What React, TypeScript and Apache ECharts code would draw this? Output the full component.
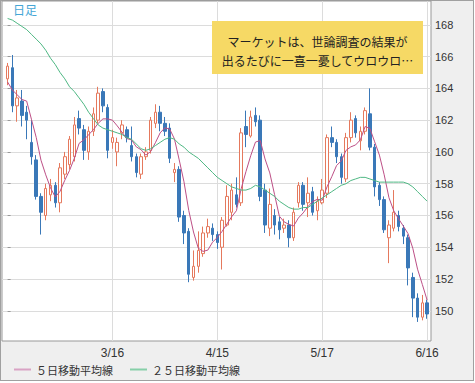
import React, { useEffect, useRef } from "react";
import * as echarts from "echarts";

// Trading days (weekdays) from 2016-02-15 to 2016-06-16
const dates: string[] = (() => {
  const out: string[] = [];
  const d = new Date(Date.UTC(2016, 1, 15));
  const end = Date.UTC(2016, 5, 16);
  while (d.getTime() <= end) {
    const wd = d.getUTCDay();
    if (wd !== 0 && wd !== 6) out.push(`${d.getUTCMonth() + 1}/${d.getUTCDate()}`);
    d.setUTCDate(d.getUTCDate() + 1);
  }
  return out;
})();

const xTickLabels = ["3/16", "4/15", "5/17", "6/16"];
const yTicks = [150, 152, 154, 156, 158, 160, 162, 164, 166, 168];

// [open, close, low, high]
const candles: number[][] = [
  [164.6, 165.4, 164.2, 165.6], [165.3, 162.9, 162.5, 166.1], [162.9, 163.4, 161.9, 163.9], [163.2, 162.3, 161.6, 163.9],
  [162.5, 162.0, 160.8, 162.9], [160.6, 159.7, 159.2, 162.0], [159.5, 157.2, 157.0, 159.8], [157.2, 156.2, 154.8, 157.4],
  [156.0, 157.7, 155.7, 158.0], [157.3, 157.9, 156.9, 158.3], [157.9, 156.8, 156.5, 158.1], [156.8, 159.0, 156.2, 159.3],
  [158.6, 159.7, 158.3, 160.0], [159.2, 160.8, 158.9, 161.0], [159.7, 161.7, 159.4, 162.2], [162.1, 161.5, 161.1, 162.6],
  [161.4, 160.1, 159.5, 161.7], [160.0, 161.3, 159.5, 161.6], [161.3, 162.4, 161.0, 162.8], [162.0, 163.7, 161.8, 164.1],
  [163.8, 162.9, 162.5, 164.0], [162.8, 160.1, 159.6, 163.0], [160.6, 160.9, 160.2, 161.4], [160.0, 160.6, 159.1, 160.9],
  [161.2, 161.7, 160.8, 162.0], [161.4, 160.9, 160.6, 161.6], [160.4, 159.7, 159.4, 161.6], [159.7, 158.7, 158.4, 159.9],
  [158.6, 159.7, 158.3, 159.9], [159.7, 160.0, 159.5, 160.3], [160.1, 162.0, 159.9, 162.2], [161.8, 162.5, 161.5, 163.0],
  [162.5, 161.8, 161.3, 162.9], [161.8, 161.3, 161.0, 162.2], [161.5, 159.6, 159.3, 161.8], [158.7, 158.9, 158.1, 159.3],
  [158.9, 155.9, 155.6, 159.1], [156.0, 154.9, 154.2, 156.3], [155.0, 152.3, 151.8, 155.2], [152.1, 152.8, 151.9, 153.8],
  [152.8, 153.8, 152.4, 155.0], [153.6, 154.9, 153.4, 155.3], [154.9, 155.3, 154.6, 155.8], [155.2, 154.8, 154.4, 155.5],
  [154.8, 154.3, 153.9, 155.0], [154.0, 155.7, 152.6, 155.9], [155.4, 157.2, 155.3, 157.9], [156.2, 157.6, 155.7, 158.0],
  [157.3, 156.7, 156.5, 158.4], [156.8, 161.2, 156.6, 161.5], [161.6, 161.1, 160.3, 162.6], [161.0, 162.2, 160.9, 162.6],
  [162.3, 161.9, 161.6, 162.8], [162.0, 157.2, 156.9, 162.3], [157.6, 155.4, 154.9, 158.0], [155.2, 156.7, 154.7, 157.7],
  [156.0, 155.4, 154.8, 156.4], [155.6, 155.1, 154.5, 155.9], [155.2, 155.4, 154.9, 155.8], [155.4, 154.6, 154.0, 155.7],
  [154.6, 156.2, 154.4, 156.5], [156.8, 157.9, 156.5, 158.1], [157.9, 156.7, 156.3, 158.1], [156.8, 157.4, 155.9, 158.4],
  [157.5, 156.2, 156.0, 157.8], [156.3, 156.9, 155.7, 157.2], [156.8, 157.6, 156.7, 158.3], [157.4, 160.9, 157.1, 161.1],
  [160.9, 160.6, 160.3, 161.6], [160.6, 159.7, 159.3, 160.8], [159.7, 158.4, 158.0, 159.9], [158.3, 160.9, 158.1, 161.2],
  [160.9, 162.0, 160.6, 162.5], [162.1, 161.2, 160.9, 162.3], [160.7, 161.3, 160.1, 161.6], [161.3, 162.6, 161.1, 162.8],
  [162.4, 160.3, 160.1, 164.0], [160.3, 157.8, 157.2, 160.5], [157.9, 157.0, 156.6, 158.1], [157.0, 155.1, 154.9, 157.2],
  [154.6, 155.4, 153.0, 155.7], [155.2, 156.2, 155.0, 157.6], [156.0, 155.3, 155.0, 156.3], [155.2, 154.7, 154.2, 155.4],
  [154.6, 152.7, 151.6, 154.8], [152.1, 150.8, 149.6, 152.4], [150.8, 149.6, 149.3, 151.1], [149.6, 150.5, 149.4, 151.0],
  [150.5, 149.8, 149.5, 150.7],
];

const ma5: number[] = [
  164.4, 163.9, 163.6, 163.3, 163.2, 162.06, 160.92, 159.48, 158.56, 157.74,
  157.16, 157.52, 158.22, 158.84, 159.6, 160.54, 160.76, 161.08, 161.4, 161.8,
  162.08, 162.08, 162.0, 161.64, 161.24, 160.84, 160.76, 160.32, 160.14, 159.8,
  160.02, 160.58, 161.2, 161.52, 161.44, 160.82, 159.5, 158.12, 156.32, 154.96,
  153.94, 153.74, 153.82, 154.32, 154.62, 155.0, 155.46, 155.92, 156.3, 157.68,
  158.76, 159.76, 160.62, 160.72, 159.56, 158.68, 157.32, 155.96, 155.6, 155.44,
  155.34, 155.84, 156.16, 156.56, 156.88, 157.02, 156.96, 157.8, 158.44, 159.14,
  159.44, 160.1, 160.32, 160.44, 160.76, 161.6, 161.48, 160.64, 159.8, 158.56,
  157.12, 156.3, 155.8, 155.34, 154.86, 153.94, 152.62, 151.66, 150.68,
];

const ma25: number[] = [
  168.4, 168.3, 168.1, 167.9, 167.7, 167.4, 167.1, 166.8, 166.4, 165.9,
  165.5, 165.0, 164.6, 164.1, 163.8, 163.4, 163.0, 162.5, 162.1, 161.7,
  161.5, 161.4, 161.3, 161.2, 161.1, 160.9, 160.8, 160.5, 160.2, 160.1,
  160.2, 160.4, 160.6, 160.8, 160.9, 160.8, 160.5, 160.3, 160.0, 159.8,
  159.6, 159.3, 159.0, 158.7, 158.4, 158.2, 158.0, 157.8, 157.7, 157.6,
  157.6, 157.7, 157.9, 157.8, 157.6, 157.4, 157.2, 156.9, 156.7, 156.5,
  156.4, 156.4, 156.5, 156.5, 156.7, 156.9, 157.1, 157.3, 157.5, 157.7,
  157.9, 158.0, 158.2, 158.3, 158.4, 158.4, 158.3, 158.2, 158.1, 158.1,
  158.1, 158.1, 158.1, 158.1, 158.0, 157.8, 157.5, 157.2, 156.9,
];

const seriesNames = ["５日移動平均線", "２５日移動平均線"];
const noteLines = ["マーケットは、世論調査の結果が", "出るたびに一喜一憂してウロウロ…"];
const cornerLabel = "日足";

const CJK = "'Noto Sans CJK JP', 'Noto Sans', sans-serif";
const LAT = "'Liberation Sans', Arial, sans-serif";

export default function App() {
  const ref = useRef<HTMLDivElement>(null);

  useEffect(() => {
    document.body.style.margin = "0";
    if (!ref.current) return;
    const chart = echarts.init(ref.current, null, { renderer: "svg" });
    const xTickIdx = xTickLabels.map((l) => dates.indexOf(l));
    const option: any = {
      animation: false,
      backgroundColor: "transparent",
      textStyle: { fontFamily: LAT },
      grid: {
        left: 2,
        right: 44,
        top: 1,
        bottom: 42,
        show: true,
        backgroundColor: "#fff",
        borderColor: "#999",
        borderWidth: 1,
      },
      xAxis: {
        type: "value",
        min: -1.175,
        max: 88.82,
        axisLine: { show: false },
        axisTick: { show: false, customValues: xTickIdx },
        splitLine: { show: true, lineStyle: { color: "#dcdcdc", width: 1 } },
        axisLabel: {
          customValues: xTickIdx,
          formatter: (v: number) => dates[Math.round(v)],
          color: "#333",
          fontSize: 12,
          margin: 6,
          fontFamily: LAT,
        },
      },
      yAxis: {
        type: "value",
        position: "right",
        min: 148.1,
        max: 169.5,
        axisLine: { show: false },
        axisTick: { show: true, customValues: yTicks, length: 3, lineStyle: { color: "#999" } },
        axisLabel: { customValues: yTicks, color: "#333", fontSize: 11, margin: 4, fontFamily: LAT },
        splitLine: { show: true, lineStyle: { color: "#dcdcdc", width: 1 } },
      },
      legend: {
        left: 14,
        top: 364,
        padding: 0,
        itemWidth: 17,
        itemHeight: 2,
        itemGap: 17,
        icon: "rect",
        textStyle: { fontSize: 11, color: "#333", fontFamily: CJK },
        data: [
          { name: seriesNames[0], itemStyle: { color: "#d9a3c4", borderWidth: 0 } },
          { name: seriesNames[1], itemStyle: { color: "#86cfa8", borderWidth: 0 } },
        ],
      },
      graphic: [
        {
          type: "text",
          left: 13,
          top: 3,
          z: 100,
          style: { text: cornerLabel, fill: "#45a6d6", fontSize: 12, fontFamily: CJK },
        },
        {
          type: "rect",
          z: 100,
          shape: { x: 212, y: 21, width: 211, height: 53 },
          style: { fill: "#f6d965" },
        },
        {
          type: "text",
          z: 101,
          x: 317.5,
          y: 41,
          style: {
            text: noteLines[0],
            fill: "#222",
            fontSize: 12,
            fontFamily: CJK,
            align: "center",
            verticalAlign: "middle",
          },
        },
        {
          type: "text",
          z: 101,
          x: 317.5,
          y: 60,
          style: {
            text: noteLines[1],
            fill: "#222",
            fontSize: 12,
            fontFamily: CJK,
            align: "center",
            verticalAlign: "middle",
          },
        },
      ],
      series: [
        {
          type: "candlestick",
          name: "日足",
          barWidth: 3,
          data: candles.map((c, i) => [i, c[0], c[1], c[2], c[3]]),
          itemStyle: {
            color: "#ffffff",
            color0: "#3a78b8",
            borderColor: "#e5795d",
            borderColor0: "#3a78b8",
            borderWidth: 1,
          },
        },
        {
          type: "line",
          name: seriesNames[0],
          data: ma5.map((v, i) => [i, v]),
          showSymbol: false,
          symbol: "none",
          lineStyle: { color: "#bd4f86", width: 1 },
          itemStyle: { color: "#bd4f86" },
          z: 3,
        },
        {
          type: "line",
          name: seriesNames[1],
          data: ma25.map((v, i) => [i, v]),
          showSymbol: false,
          symbol: "none",
          lineStyle: { color: "#4fb884", width: 1 },
          itemStyle: { color: "#4fb884" },
          z: 3,
        },
      ],
    };
    chart.setOption(option);
    return () => chart.dispose();
  }, []);

  return (
    <div style={{ position: "relative", width: 475, height: 383, background: "#fff" }}>
      <div
        style={{
          position: "absolute",
          left: 0,
          top: 0,
          width: 474,
          height: 381,
          boxSizing: "border-box",
          border: "1px solid #a0a0a0",
          background: "#efefef",
        }}
      />
      <div ref={ref} style={{ position: "absolute", left: 0, top: 0, width: 475, height: 383 }} />
    </div>
  );
}
